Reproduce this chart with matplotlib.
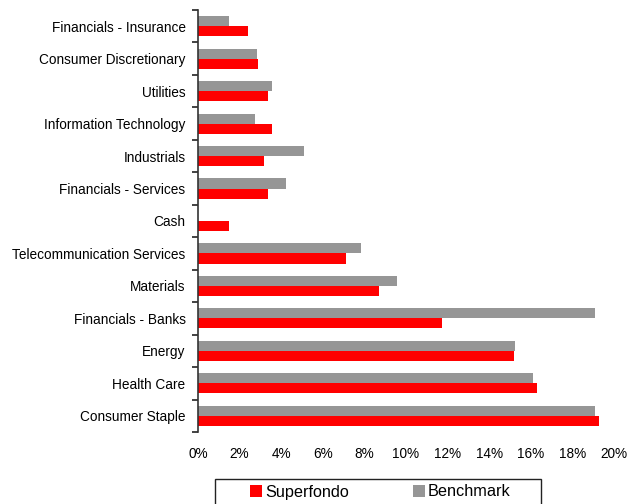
import matplotlib.pyplot as plt
from matplotlib.patches import Rectangle
from matplotlib.ticker import PercentFormatter
import numpy as np

plt.rcParams['font.family'] = ['Liberation Sans', 'DejaVu Sans']

# sectors, top to bottom
sectors = ['Financials - Insurance', 'Consumer Discretionary', 'Utilities',
           'Information Technology', 'Industrials', 'Financials - Services',
           'Cash', 'Telecommunication Services', 'Materials',
           'Financials - Banks', 'Energy', 'Health Care', 'Consumer Staple']
# weights in %
superfondo = [2.4, 2.9, 3.35, 3.55, 3.15, 3.35, 1.5, 7.1, 8.7, 11.75, 15.2, 16.3, 19.3]
benchmark = [1.5, 2.85, 3.55, 2.75, 5.1, 4.25, 0.0, 7.85, 9.55, 19.1, 15.25, 16.1, 19.1]

red = '#ff0000'
grey = '#969696'

W, H = 627, 504
fig = plt.figure(figsize=(W/100, H/100), dpi=100)
ax = fig.add_axes([198/W, 1 - 432/H, 416/W, 422/H])

y = np.arange(len(sectors))
h = 0.31
ax.barh(y + h/2, superfondo, height=h, color=red, label='Superfondo')
ax.barh(y - h/2, benchmark, height=h, color=grey, label='Benchmark')

ax.set_xlim(0, 20)
ax.set_ylim(len(sectors) - 0.5, -0.5)
ax.set_xticks(np.arange(0, 21, 2))
ax.xaxis.set_major_formatter(PercentFormatter(decimals=0))
ax.set_yticks(y)
ax.set_yticklabels(sectors)
ax.set_yticks(np.arange(-0.5, len(sectors), 1), minor=True)

ax.tick_params(axis='y', which='major', length=0, pad=9, labelsize=9.8)
ax.tick_params(axis='y', which='minor', length=4, width=1.2, color='#222222')
ax.tick_params(axis='x', length=0, pad=11, labelsize=9.8)

for s in ['top', 'right', 'bottom']:
    ax.spines[s].set_visible(False)
ax.spines['left'].set_color('#333333')
ax.spines['left'].set_linewidth(1.2)

# legend box runs off the bottom edge like the original
box = Rectangle((215/W, -0.05), 326/W, 1 - 479/H + 0.05, transform=fig.transFigure,
                fill=False, edgecolor='#222222', linewidth=1.0)
fig.patches.append(box)

fig.legend(loc='center left', ncol=2, bbox_to_anchor=(250/W, 1 - 492/H),
           frameon=False, borderaxespad=0, borderpad=0,
           handlelength=0.75, handleheight=0.8, handletextpad=0.2,
           columnspacing=3.9, fontsize=11.7)

fig.savefig('out.png', dpi=100)
